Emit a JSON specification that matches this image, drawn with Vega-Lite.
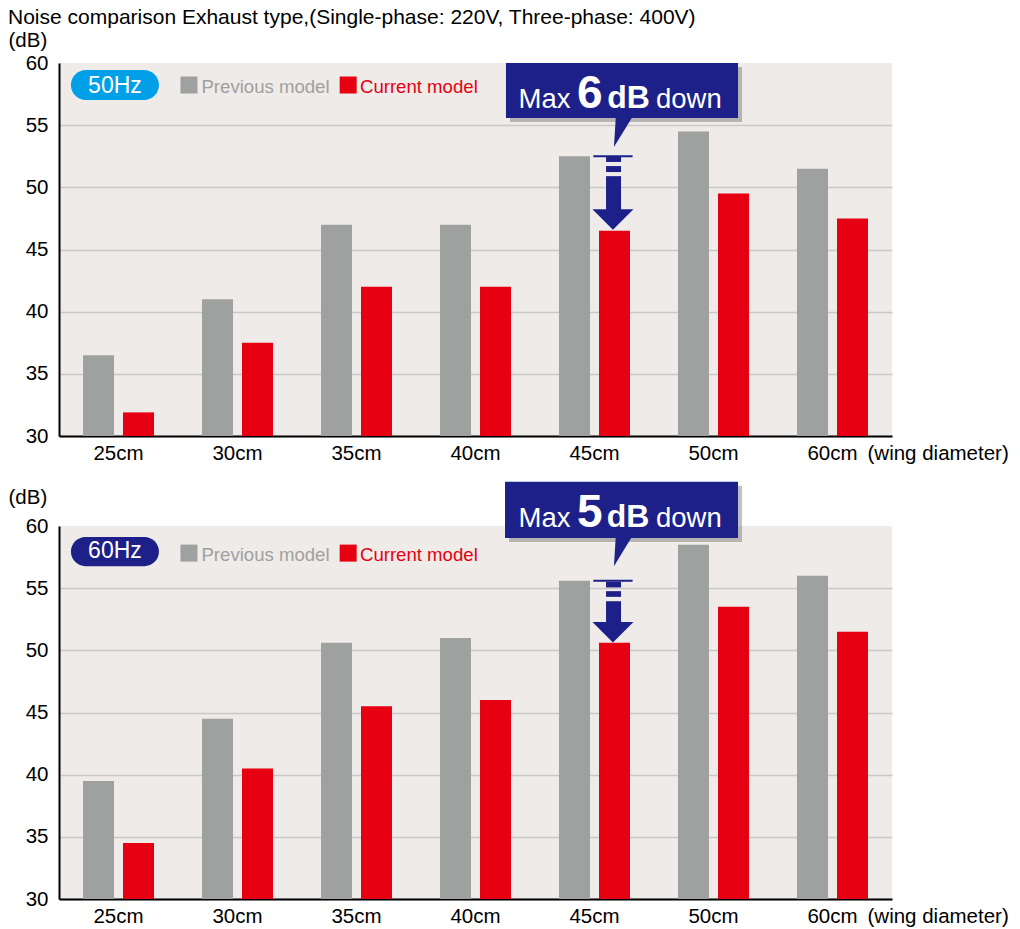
{
  "$schema": "https://vega.github.io/schema/vega-lite/v6.json",
  "padding": {"left": 8, "top": 7, "right": 5, "bottom": 2},
  "title": {"text": "Noise comparison Exhaust type,(Single-phase: 220V, Three-phase: 400V)", "anchor": "start", "frame": "bounds", "fontSize": 21, "fontWeight": "normal", "color": "#000", "offset": 2},
  "datasets": {
    "bars": [
      {"panel": "50Hz", "size": "25cm", "series": "Previous model", "db": 36.5},
      {"panel": "50Hz", "size": "25cm", "series": "Current model", "db": 31.9},
      {"panel": "50Hz", "size": "30cm", "series": "Previous model", "db": 41},
      {"panel": "50Hz", "size": "30cm", "series": "Current model", "db": 37.5},
      {"panel": "50Hz", "size": "35cm", "series": "Previous model", "db": 47},
      {"panel": "50Hz", "size": "35cm", "series": "Current model", "db": 42},
      {"panel": "50Hz", "size": "40cm", "series": "Previous model", "db": 47},
      {"panel": "50Hz", "size": "40cm", "series": "Current model", "db": 42},
      {"panel": "50Hz", "size": "45cm", "series": "Previous model", "db": 52.5},
      {"panel": "50Hz", "size": "45cm", "series": "Current model", "db": 46.5},
      {"panel": "50Hz", "size": "50cm", "series": "Previous model", "db": 54.5},
      {"panel": "50Hz", "size": "50cm", "series": "Current model", "db": 49.5},
      {"panel": "50Hz", "size": "60cm", "series": "Previous model", "db": 51.5},
      {"panel": "50Hz", "size": "60cm", "series": "Current model", "db": 47.5},
      {"panel": "60Hz", "size": "25cm", "series": "Previous model", "db": 39.5},
      {"panel": "60Hz", "size": "25cm", "series": "Current model", "db": 34.5},
      {"panel": "60Hz", "size": "30cm", "series": "Previous model", "db": 44.5},
      {"panel": "60Hz", "size": "30cm", "series": "Current model", "db": 40.5},
      {"panel": "60Hz", "size": "35cm", "series": "Previous model", "db": 50.6},
      {"panel": "60Hz", "size": "35cm", "series": "Current model", "db": 45.5},
      {"panel": "60Hz", "size": "40cm", "series": "Previous model", "db": 51},
      {"panel": "60Hz", "size": "40cm", "series": "Current model", "db": 46},
      {"panel": "60Hz", "size": "45cm", "series": "Previous model", "db": 55.6},
      {"panel": "60Hz", "size": "45cm", "series": "Current model", "db": 50.6},
      {"panel": "60Hz", "size": "50cm", "series": "Previous model", "db": 58.5},
      {"panel": "60Hz", "size": "50cm", "series": "Current model", "db": 53.5},
      {"panel": "60Hz", "size": "60cm", "series": "Previous model", "db": 56},
      {"panel": "60Hz", "size": "60cm", "series": "Current model", "db": 51.5}
    ],
    "rects": [
      {"panel": "50Hz", "kind": "shadow", "px": 3.79, "px2": 5.74, "db": 59.68, "db2": 55.26},
      {"panel": "50Hz", "kind": "box", "px": 3.756, "px2": 5.706, "db": 60, "db2": 55.58},
      {"panel": "50Hz", "kind": "pill", "px": 0.1, "px2": 0.84, "db": 59.44, "db2": 57.02},
      {"panel": "60Hz", "kind": "shadow", "px": 3.782, "px2": 5.74, "db": 63.23, "db2": 58.71},
      {"panel": "60Hz", "kind": "box", "px": 3.748, "px2": 5.706, "db": 63.55, "db2": 59.03},
      {"panel": "60Hz", "kind": "pill", "px": 0.1, "px2": 0.84, "db": 59.11, "db2": 56.77}
    ],
    "rules": [
      {"panel": "50Hz", "kind": "cap", "px": 4.49, "px2": 4.82, "db": 52.5},
      {"panel": "50Hz", "kind": "shaft", "px": 4.66, "db": 52.44, "db2": 52.04},
      {"panel": "50Hz", "kind": "shaft", "px": 4.66, "db": 51.71, "db2": 51.23},
      {"panel": "50Hz", "kind": "shaft", "px": 4.66, "db": 50.9, "db2": 48.1},
      {"panel": "60Hz", "kind": "cap", "px": 4.49, "px2": 4.82, "db": 55.6},
      {"panel": "60Hz", "kind": "shaft", "px": 4.66, "db": 55.51, "db2": 55.06},
      {"panel": "60Hz", "kind": "shaft", "px": 4.66, "db": 54.76, "db2": 54.3},
      {"panel": "60Hz", "kind": "shaft", "px": 4.66, "db": 53.95, "db2": 52.2}
    ],
    "points": [
      {"panel": "50Hz", "kind": "pointer", "px": 4.739, "db": 54.41},
      {"panel": "50Hz", "kind": "head", "px": 4.655, "db": 47.41},
      {"panel": "60Hz", "kind": "pointer", "px": 4.739, "db": 57.94},
      {"panel": "60Hz", "kind": "head", "px": 4.655, "db": 51.45}
    ],
    "legend": [
      {"panel": "50Hz", "kind": "swatch", "series": "Previous model", "px": 1.092, "db": 58.23},
      {"panel": "50Hz", "kind": "swatch", "series": "Current model", "px": 2.43, "db": 58.23},
      {"panel": "50Hz", "kind": "label", "series": "Previous model", "px": 1.197, "db": 57.59},
      {"panel": "50Hz", "kind": "label", "series": "Current model", "px": 2.529, "db": 57.59},
      {"panel": "60Hz", "kind": "swatch", "series": "Previous model", "px": 1.092, "db": 57.82},
      {"panel": "60Hz", "kind": "swatch", "series": "Current model", "px": 2.43, "db": 57.82},
      {"panel": "60Hz", "kind": "label", "series": "Previous model", "px": 1.197, "db": 57.18},
      {"panel": "60Hz", "kind": "label", "series": "Current model", "px": 2.529, "db": 57.18}
    ],
    "words": [
      {"panel": "50Hz", "kind": "regular", "text": "Max", "px": 3.862, "db": 56.38},
      {"panel": "50Hz", "kind": "digit", "text": "6", "px": 4.353, "db": 56.38},
      {"panel": "50Hz", "kind": "unit", "text": "dB", "px": 4.607, "db": 56.38},
      {"panel": "50Hz", "kind": "regular", "text": "down", "px": 5.017, "db": 56.38},
      {"panel": "50Hz", "kind": "badge", "text": "50Hz", "px": 0.47, "db": 57.59},
      {"panel": "60Hz", "kind": "regular", "text": "Max", "px": 3.862, "db": 59.94},
      {"panel": "60Hz", "kind": "digit", "text": "5", "px": 4.353, "db": 59.94},
      {"panel": "60Hz", "kind": "unit", "text": "dB", "px": 4.603, "db": 59.94},
      {"panel": "60Hz", "kind": "regular", "text": "down", "px": 5.017, "db": 59.94},
      {"panel": "60Hz", "kind": "badge", "text": "60Hz", "px": 0.47, "db": 57.42}
    ]
  },
  "spacing": 17,
  "vconcat": [
    {
      "width": 833,
      "height": 373,
      "layer": [
        {
          "data": {"name": "bars"},
          "transform": [{"filter": "datum.panel === '50Hz'"}],
          "mark": {"type": "bar"},
          "encoding": {
            "x": {"field": "size", "type": "nominal", "sort": null, "scale": {"paddingInner": 0, "paddingOuter": 0}, "axis": {"title": "(wing diameter)"}},
            "xOffset": {"field": "series", "type": "nominal", "sort": ["Previous model", "Current model"], "scale": {"paddingInner": 0.225, "paddingOuter": 0.6}},
            "y": {"field": "db", "type": "quantitative", "scale": {"domain": [30, 60], "nice": false, "zero": false}, "title": "(dB)", "axis": {"values": [30, 35, 40, 45, 50, 55, 60], "titleY": -23, "gridOpacity": {"condition": {"test": "datum.value === 60", "value": 0}, "value": 1}}},
            "y2": {"datum": 30},
            "color": {"field": "series", "type": "nominal", "scale": {"domain": ["Previous model", "Current model"], "range": ["#9fa0a0", "#e60012"]}, "legend": null}
          }
        },
        {
          "encoding": {
            "x": {"field": "px", "type": "quantitative", "scale": {"domain": [0, 7], "nice": false, "zero": false}, "axis": null},
            "y": {"field": "db", "type": "quantitative", "title": "(dB)"}
          },
          "layer": [
            {"data": {"name": "rects"}, "transform": [{"filter": "datum.panel === '50Hz' && datum.kind === 'shadow'"}], "mark": {"type": "rect", "color": "#333", "opacity": 0.3}, "encoding": {"x2": {"field": "px2"}, "y2": {"field": "db2"}}},
            {"data": {"name": "rects"}, "transform": [{"filter": "datum.panel === '50Hz' && datum.kind === 'box'"}], "mark": {"type": "rect", "color": "#1d2088", "opacity": 1}, "encoding": {"x2": {"field": "px2"}, "y2": {"field": "db2"}}},
            {"data": {"name": "points"}, "transform": [{"filter": "datum.panel === '50Hz' && datum.kind === 'pointer'"}], "mark": {"type": "point", "shape": "M -0.47 -1.1 L 0.67 -1.1 L -0.6 0.97 Z", "size": 900, "filled": true, "opacity": 1, "color": "#1d2088", "strokeWidth": 0}},
            {"data": {"name": "rects"}, "transform": [{"filter": "datum.panel === '50Hz' && datum.kind === 'pill'"}], "mark": {"type": "rect", "color": "#00a0e9", "opacity": 1, "cornerRadius": 15}, "encoding": {"x2": {"field": "px2"}, "y2": {"field": "db2"}}},
            {"data": {"name": "words"}, "transform": [{"filter": "datum.panel === '50Hz' && datum.kind === 'badge'"}], "mark": {"type": "text", "align": "center", "baseline": "alphabetic", "fontSize": 23, "color": "white"}, "encoding": {"text": {"field": "text"}}},
            {"data": {"name": "legend"}, "transform": [{"filter": "datum.panel === '50Hz' && datum.kind === 'swatch'"}], "mark": {"type": "point", "shape": "square", "size": 289, "filled": true, "opacity": 1, "strokeWidth": 0}, "encoding": {"color": {"field": "series", "type": "nominal", "legend": null}}},
            {"data": {"name": "legend"}, "transform": [{"filter": "datum.panel === '50Hz' && datum.kind === 'label'"}], "mark": {"type": "text", "align": "left", "baseline": "alphabetic", "fontSize": 18.6}, "encoding": {"text": {"field": "series"}, "color": {"field": "series", "type": "nominal", "legend": null}}},
            {"data": {"name": "rules"}, "transform": [{"filter": "datum.panel === '50Hz' && datum.kind === 'cap'"}], "mark": {"type": "rule", "color": "#1d2088", "strokeWidth": 2}, "encoding": {"x2": {"field": "px2"}}},
            {"data": {"name": "rules"}, "transform": [{"filter": "datum.panel === '50Hz' && datum.kind === 'shaft'"}], "mark": {"type": "rule", "color": "#1d2088", "strokeWidth": 15, "strokeCap": "butt"}, "encoding": {"y2": {"field": "db2"}}},
            {"data": {"name": "points"}, "transform": [{"filter": "datum.panel === '50Hz' && datum.kind === 'head'"}], "mark": {"type": "point", "shape": "M -1 -0.5 L 1 -0.5 L 0 0.5 Z", "size": 1681, "filled": true, "opacity": 1, "color": "#1d2088", "strokeWidth": 0}},
            {"data": {"name": "words"}, "transform": [{"filter": "datum.panel === '50Hz' && datum.kind === 'regular'"}], "mark": {"type": "text", "align": "left", "baseline": "alphabetic", "fontSize": 27.5, "color": "white"}, "encoding": {"text": {"field": "text"}}},
            {"data": {"name": "words"}, "transform": [{"filter": "datum.panel === '50Hz' && datum.kind === 'digit'"}], "mark": {"type": "text", "align": "left", "baseline": "alphabetic", "fontSize": 46, "fontWeight": "bold", "color": "white"}, "encoding": {"text": {"field": "text"}}},
            {"data": {"name": "words"}, "transform": [{"filter": "datum.panel === '50Hz' && datum.kind === 'unit'"}], "mark": {"type": "text", "align": "left", "baseline": "alphabetic", "fontSize": 32, "fontWeight": "bold", "color": "white"}, "encoding": {"text": {"field": "text"}}}
          ]
        }
      ],
      "resolve": {"scale": {"x": "independent"}}
    },
    {
      "width": 833,
      "height": 373,
      "layer": [
        {
          "data": {"name": "bars"},
          "transform": [{"filter": "datum.panel === '60Hz'"}],
          "mark": {"type": "bar"},
          "encoding": {
            "x": {"field": "size", "type": "nominal", "sort": null, "scale": {"paddingInner": 0, "paddingOuter": 0}, "axis": {"title": "(wing diameter)"}},
            "xOffset": {"field": "series", "type": "nominal", "sort": ["Previous model", "Current model"], "scale": {"paddingInner": 0.225, "paddingOuter": 0.6}},
            "y": {"field": "db", "type": "quantitative", "scale": {"domain": [30, 60], "nice": false, "zero": false}, "title": "(dB)", "axis": {"values": [30, 35, 40, 45, 50, 55, 60], "titleY": -29, "gridOpacity": {"condition": {"test": "datum.value === 60", "value": 0}, "value": 1}}},
            "y2": {"datum": 30},
            "color": {"field": "series", "type": "nominal", "scale": {"domain": ["Previous model", "Current model"], "range": ["#9fa0a0", "#e60012"]}, "legend": null}
          }
        },
        {
          "encoding": {
            "x": {"field": "px", "type": "quantitative", "scale": {"domain": [0, 7], "nice": false, "zero": false}, "axis": null},
            "y": {"field": "db", "type": "quantitative", "title": "(dB)"}
          },
          "layer": [
            {"data": {"name": "rects"}, "transform": [{"filter": "datum.panel === '60Hz' && datum.kind === 'shadow'"}], "mark": {"type": "rect", "color": "#333", "opacity": 0.3}, "encoding": {"x2": {"field": "px2"}, "y2": {"field": "db2"}}},
            {"data": {"name": "rects"}, "transform": [{"filter": "datum.panel === '60Hz' && datum.kind === 'box'"}], "mark": {"type": "rect", "color": "#1d2088", "opacity": 1}, "encoding": {"x2": {"field": "px2"}, "y2": {"field": "db2"}}},
            {"data": {"name": "points"}, "transform": [{"filter": "datum.panel === '60Hz' && datum.kind === 'pointer'"}], "mark": {"type": "point", "shape": "M -0.47 -1.1 L 0.67 -1.1 L -0.6 0.97 Z", "size": 900, "filled": true, "opacity": 1, "color": "#1d2088", "strokeWidth": 0}},
            {"data": {"name": "rects"}, "transform": [{"filter": "datum.panel === '60Hz' && datum.kind === 'pill'"}], "mark": {"type": "rect", "color": "#1d2088", "opacity": 1, "cornerRadius": 15}, "encoding": {"x2": {"field": "px2"}, "y2": {"field": "db2"}}},
            {"data": {"name": "words"}, "transform": [{"filter": "datum.panel === '60Hz' && datum.kind === 'badge'"}], "mark": {"type": "text", "align": "center", "baseline": "alphabetic", "fontSize": 23, "color": "white"}, "encoding": {"text": {"field": "text"}}},
            {"data": {"name": "legend"}, "transform": [{"filter": "datum.panel === '60Hz' && datum.kind === 'swatch'"}], "mark": {"type": "point", "shape": "square", "size": 289, "filled": true, "opacity": 1, "strokeWidth": 0}, "encoding": {"color": {"field": "series", "type": "nominal", "legend": null}}},
            {"data": {"name": "legend"}, "transform": [{"filter": "datum.panel === '60Hz' && datum.kind === 'label'"}], "mark": {"type": "text", "align": "left", "baseline": "alphabetic", "fontSize": 18.6}, "encoding": {"text": {"field": "series"}, "color": {"field": "series", "type": "nominal", "legend": null}}},
            {"data": {"name": "rules"}, "transform": [{"filter": "datum.panel === '60Hz' && datum.kind === 'cap'"}], "mark": {"type": "rule", "color": "#1d2088", "strokeWidth": 2}, "encoding": {"x2": {"field": "px2"}}},
            {"data": {"name": "rules"}, "transform": [{"filter": "datum.panel === '60Hz' && datum.kind === 'shaft'"}], "mark": {"type": "rule", "color": "#1d2088", "strokeWidth": 15, "strokeCap": "butt"}, "encoding": {"y2": {"field": "db2"}}},
            {"data": {"name": "points"}, "transform": [{"filter": "datum.panel === '60Hz' && datum.kind === 'head'"}], "mark": {"type": "point", "shape": "M -1 -0.5 L 1 -0.5 L 0 0.5 Z", "size": 1681, "filled": true, "opacity": 1, "color": "#1d2088", "strokeWidth": 0}},
            {"data": {"name": "words"}, "transform": [{"filter": "datum.panel === '60Hz' && datum.kind === 'regular'"}], "mark": {"type": "text", "align": "left", "baseline": "alphabetic", "fontSize": 27.5, "color": "white"}, "encoding": {"text": {"field": "text"}}},
            {"data": {"name": "words"}, "transform": [{"filter": "datum.panel === '60Hz' && datum.kind === 'digit'"}], "mark": {"type": "text", "align": "left", "baseline": "alphabetic", "fontSize": 46, "fontWeight": "bold", "color": "white"}, "encoding": {"text": {"field": "text"}}},
            {"data": {"name": "words"}, "transform": [{"filter": "datum.panel === '60Hz' && datum.kind === 'unit'"}], "mark": {"type": "text", "align": "left", "baseline": "alphabetic", "fontSize": 32, "fontWeight": "bold", "color": "white"}, "encoding": {"text": {"field": "text"}}}
          ]
        }
      ],
      "resolve": {"scale": {"x": "independent"}}
    }
  ],
  "config": {
    "font": "Liberation Sans",
    "view": {"fill": "#efebe8", "stroke": null},
    "axisX": {"domainColor": "#000", "domainWidth": 2, "ticks": false, "tickSize": 0, "labelPadding": 23, "labelBaseline": "alphabetic", "labelFontSize": 20.5, "labelColor": "#000", "labelAngle": 0, "grid": false, "titleFontSize": 20.5, "titleFontWeight": "normal", "titleColor": "#000", "titleAlign": "left", "titleBaseline": "alphabetic", "titleX": 808, "titleY": 23},
    "axisY": {"domainColor": "#000", "domainWidth": 2, "ticks": false, "tickSize": 0, "labelPadding": 11, "labelFontSize": 20.5, "labelColor": "#000", "gridColor": "#c8c8c8", "gridWidth": 1.5, "titleAngle": 0, "titleAlign": "left", "titleBaseline": "middle", "titleX": -51, "titleFontSize": 20.5, "titleFontWeight": "normal", "titleColor": "#000"}
  }
}
